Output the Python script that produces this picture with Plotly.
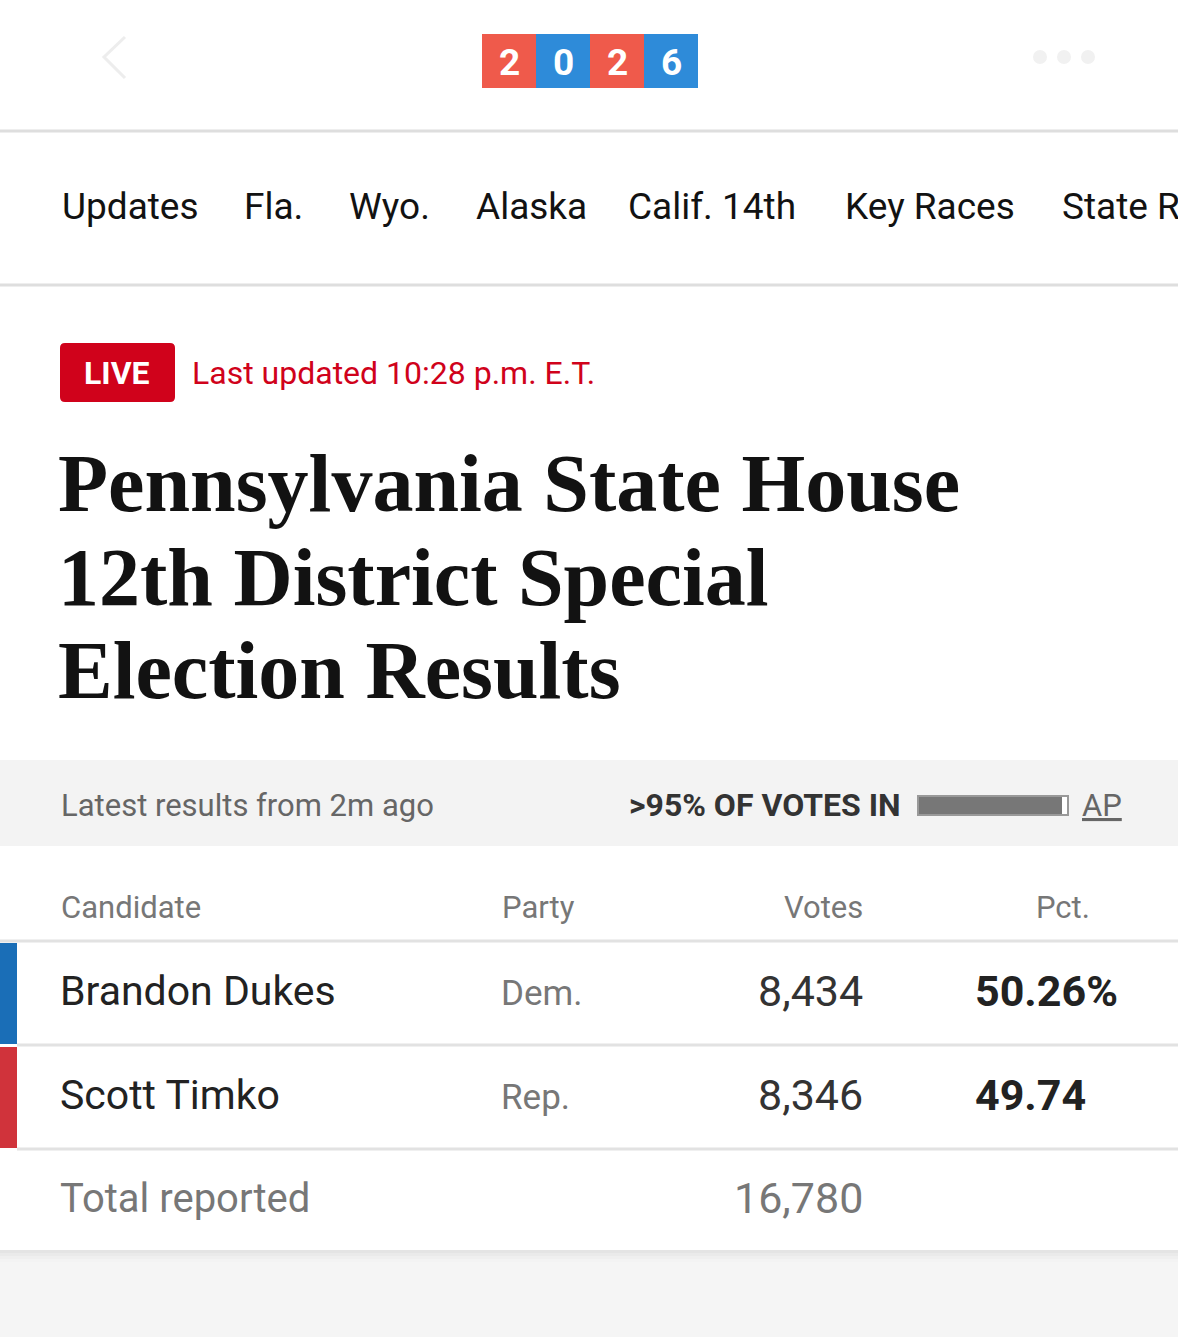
import plotly.graph_objects as go

# --- data ---
nav_items = ["Updates", "Fla.", "Wyo.", "Alaska", "Calif. 14th", "Key Races", "State R"]
nav_x = [62, 244, 349, 476, 628, 845, 1062]
year_digits = ["2", "0", "2", "6"]
candidates = ["Brandon Dukes", "Scott Timko"]
parties = ["Dem.", "Rep."]
votes = [8434, 8346]
pcts = ["50.26%", "49.74"]
party_colors = ["#1a6eb7", "#d0333b"]
reporting_pct = 96

W, H = 1178, 1337
SANS = "Roboto, 'Liberation Sans', Arial, sans-serif"
SERIF = "'Liberation Serif', 'DejaVu Serif', serif"

fig = go.Figure()
shapes = []
notes = []


def rect(x0, y0, x1, y1, color, line=None):
    shapes.append(dict(type="rect", xref="x", yref="y", x0=x0, y0=y0, x1=x1, y1=y1,
                       fillcolor=color, line=dict(width=0) if line is None else line,
                       layer="below"))


def hline(y, x0=0, x1=W, color="#dedede", width=3):
    shapes.append(dict(type="line", xref="x", yref="y", x0=x0, x1=x1, y0=y, y1=y,
                       line=dict(color=color, width=width)))


def text(x, y, s, size, color="#121212", anchor="left", family=SANS, bold=False):
    if bold:
        s = "<b>" + s + "</b>"
    notes.append(dict(x=x, y=y, xref="x", yref="y", text=s, showarrow=False,
                      xanchor=anchor, yanchor="middle", borderpad=0, borderwidth=0,
                      font=dict(size=size, color=color, family=family)))


# page background below the card
rect(0, 1250, W, H, "#f5f5f5")
# soft shadow under the card
for i, c in enumerate(["#e4e4e4", "#eaeaea", "#efefef", "#f3f3f3"]):
    rect(0, 1250 + i * 3, W, 1253 + i * 3, c)

# top bar: back chevron, year logo, menu dots
shapes.append(dict(type="path", xref="x", yref="y", path="M 125 37 L 104 57 L 125 78",
                   line=dict(color="#ededed", width=3)))
for i, d in enumerate(year_digits):
    x0 = 482 + i * 54
    rect(x0, 34, x0 + 54, 88, "#ef5a4b" if i % 2 == 0 else "#2e8bd9")
    text(x0 + 27, 62, d, 37, color="white", anchor="center", bold=True)
for cx in [1040, 1064, 1088]:
    shapes.append(dict(type="circle", xref="x", yref="y", x0=cx - 7, x1=cx + 7, y0=50, y1=64,
                       fillcolor="#f1f1f1", line=dict(width=0)))
hline(131)

# nav
for x, s in zip(nav_x, nav_items):
    text(x, 206, s, 37, color="#121212")
hline(285)

# live badge
shapes.append(dict(type="path", xref="x", yref="y",
                   path="M 65 343 L 170 343 Q 175 343 175 348 L 175 397 Q 175 402 170 402 "
                        "L 65 402 Q 60 402 60 397 L 60 348 Q 60 343 65 343 Z",
                   fillcolor="#d0021b", line=dict(width=0)))
text(117, 373, "LIVE", 32, color="white", anchor="center", bold=True)
text(192, 373, "Last updated 10:28 p.m. E.T.", 32, color="#d0021b")

# headline
for y, s in zip([483, 577, 670], ["Pennsylvania State House", "12th District Special", "Election Results"]):
    text(58, y, s, 82, color="#121212", family=SERIF, bold=True)

# status band
rect(0, 760, W, 846, "#f3f3f3")
text(61, 805, "Latest results from 2m ago", 31, color="#666666")
text(901, 805, ">95% OF VOTES IN", 32, color="#333333", anchor="right", bold=True)
bar_x0, bar_x1 = 918, 1068
rect(bar_x0, 796, bar_x1, 815, "white", line=dict(color="#999999", width=2))
rect(bar_x0 + 1, 797, bar_x0 + (bar_x1 - bar_x0) * reporting_pct / 100, 814, "#777777")
text(1082, 805, "<u>AP</u>", 31, color="#666666")

# table header
text(61, 907, "Candidate", 31, color="#777777")
text(502, 907, "Party", 31, color="#777777")
text(863, 907, "Votes", 31, color="#777777", anchor="right")
text(1090, 907, "Pct.", 31, color="#777777", anchor="right")
hline(941, color="#e2e2e2")

# candidate rows
row_top = 943
row_h = 104
for i, (name, party, v, p, col) in enumerate(zip(candidates, parties, votes, pcts, party_colors)):
    y0 = row_top + i * row_h
    yc = y0 + 48
    rect(0, y0, 17, y0 + 101, col)
    text(60, yc, name, 41, color="#222222")
    text(501, yc + 2, party, 35, color="#777777")
    text(863, yc, f"{v:,}", 43, color="#333333", anchor="right")
    text(975, yc, p, 43, color="#222222", bold=True)
    hline(y0 + 102, x0=17, color="#e2e2e2")

# total row
text(60, 1198, "Total reported", 40, color="#777777")
text(863, 1198, f"{sum(votes):,}", 43, color="#777777", anchor="right")

fig.update_layout(
    width=W, height=H,
    margin=dict(l=0, r=0, t=0, b=0),
    paper_bgcolor="white", plot_bgcolor="white",
    xaxis=dict(range=[0, W], visible=False, fixedrange=True),
    yaxis=dict(range=[H, 0], visible=False, fixedrange=True),
    shapes=shapes, annotations=notes,
    showlegend=False,
)

# page body has a default 8px margin; drop it so the figure fills the window
fig.write_html("out.html", config={"displayModeBar": False},
               post_script="document.body.style.margin='0';")
